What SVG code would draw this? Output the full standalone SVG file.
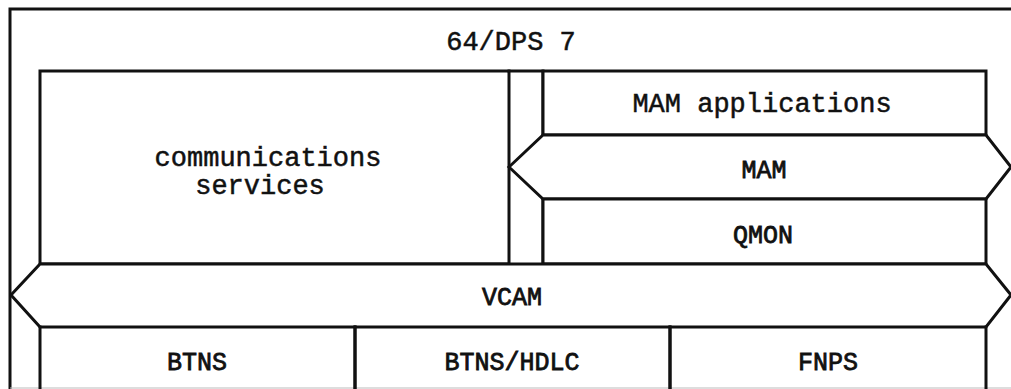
<svg xmlns="http://www.w3.org/2000/svg" width="1011" height="389" viewBox="0 0 1011 389">
<style>
.ln{fill:none;stroke:#111;stroke-width:3;stroke-linejoin:miter;stroke-linecap:square}
.bx{fill:#fff;stroke:#111;stroke-width:3;stroke-linejoin:miter}
.t1{font-family:"Liberation Mono","DejaVu Sans Mono",monospace;font-size:27px;fill:#111;stroke:#111;stroke-width:0.5;text-anchor:middle}
.t2{font-family:"Liberation Mono","DejaVu Sans Mono",monospace;font-size:25px;fill:#111;stroke:#111;stroke-width:0.8;text-anchor:middle}
</style>
<rect width="1011" height="389" fill="#fff"/>
<g id="system-64-dps7">
<path class="ln" d="M10,389 V9 H1011"/>
<line x1="10" y1="388" x2="1011" y2="388" stroke="#bbb" stroke-width="1"/>
<text class="t1" x="511" y="50">64/DPS 7</text>
</g>
<g id="communications-services">
<rect class="bx" x="40" y="71" width="469" height="193"/>
<text class="t1" x="268" y="166">communications</text>
<text class="t1" x="260" y="194">services</text>
</g>
<g id="separator">
<path class="ln" d="M509,71 H543 V135 M543,199 V264"/>
</g>
<g id="mam-applications">
<rect class="bx" x="543" y="71" width="443" height="64"/>
<text class="t1" x="762" y="112">MAM applications</text>
</g>
<g id="mam">
<polygon class="bx" points="543,135 986,135 1011,167 986,199 543,199 509,167"/>
<text class="t2" x="764" y="178">MAM</text>
</g>
<g id="qmon">
<rect class="bx" x="543" y="199" width="443" height="65"/>
<text class="t2" x="763" y="243">QMON</text>
</g>
<g id="vcam">
<polygon class="bx" points="40,264 986,264 1011,295 986,327 40,327 11,295"/>
<text class="t2" x="512" y="305">VCAM</text>
</g>
<g id="btns">
<path class="ln" d="M40,327 V389 M355,327 V389"/>
<text class="t2" x="197" y="370">BTNS</text>
</g>
<g id="btns-hdlc">
<path class="ln" d="M355,327 V389 M670,327 V389"/>
<text class="t2" x="512" y="370">BTNS/HDLC</text>
</g>
<g id="fnps">
<path class="ln" d="M670,327 V389 M986,327 V389"/>
<text class="t2" x="828" y="370">FNPS</text>
</g>
<g id="connectors"></g>
</svg>
